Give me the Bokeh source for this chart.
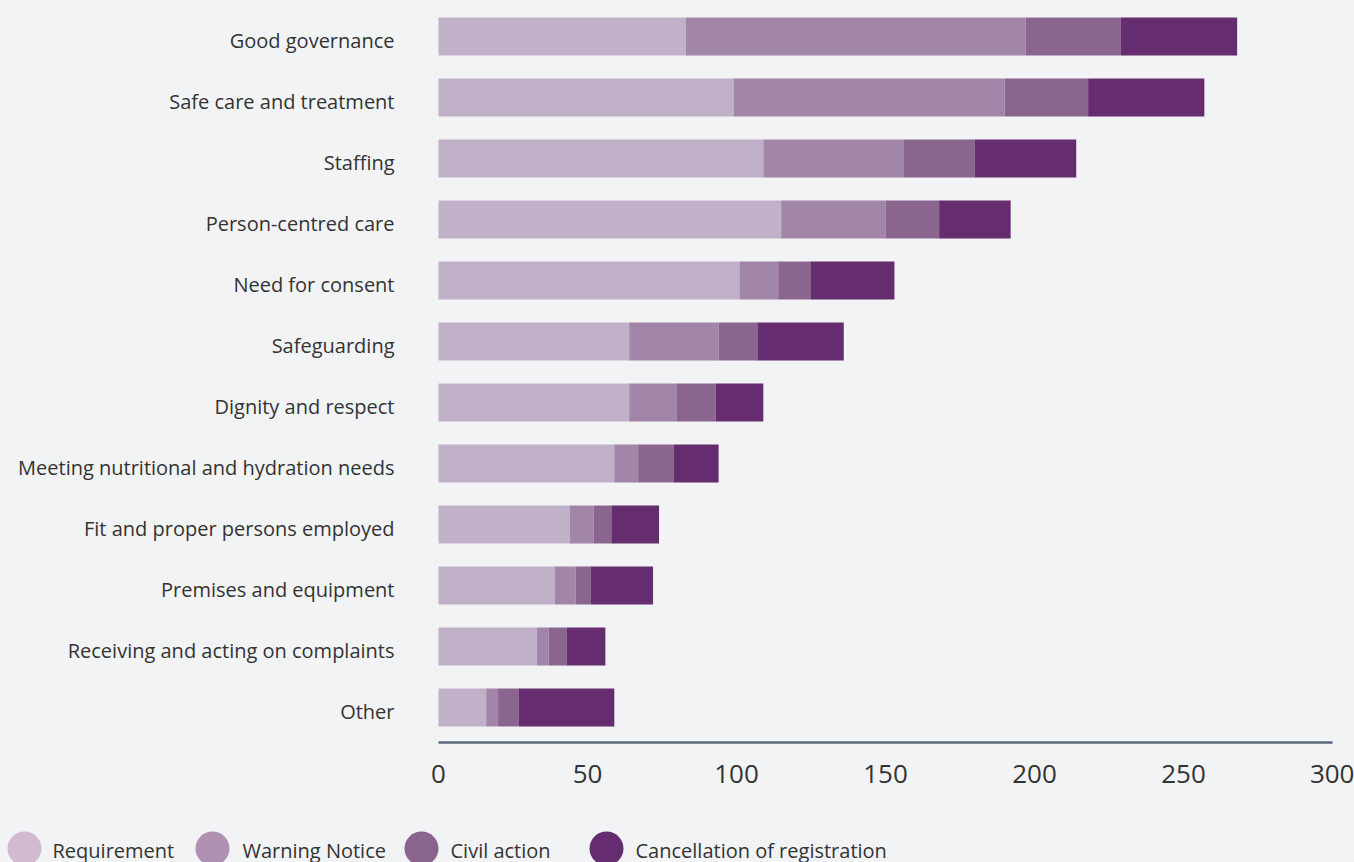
from bokeh.plotting import figure
from bokeh.models import ColumnDataSource, Range1d, FixedTicker, LinearAxis, GlobalInlineStyleSheet
from bokeh.core.properties import value
from bokeh.embed import file_html
from bokeh.resources import INLINE

categories = ["Good governance", "Safe care and treatment", "Staffing", "Person-centred care",
              "Need for consent", "Safeguarding", "Dignity and respect",
              "Meeting nutritional and hydration needs", "Fit and proper persons employed",
              "Premises and equipment", "Receiving and acting on complaints", "Other"]
requirement = [83, 99, 109, 115, 101, 64, 64, 59, 44, 39, 33, 16]
warning_notice = [114, 91, 47, 35, 13, 30, 16, 8, 8, 7, 4, 4]
civil_action = [32, 28, 24, 18, 11, 13, 13, 12, 6, 5, 6, 7]
cancellation = [39, 39, 34, 24, 28, 29, 16, 15, 16, 21, 13, 32]
series_names = ["Requirement", "Warning Notice", "Civil action", "Cancellation of registration"]
x_ticks = [0, 50, 100, 150, 200, 250, 300]

bar_colors = ["#c1b1c8", "#a186aa", "#8a658d", "#652c6f"]
legend_colors = ["#d3bad3", "#b091b2", "#89658d", "#652d6f"]
BG = "#f2f3f5"
FONT = "Open Sans"
TEXT = "#333333"

W, H = 1354, 862
# layout: pixel geometry of the drawing
X0_PX, X300_PX = 438, 1332          # where 0 and 300 fall
ROW0_PX, ROW_STEP = 36, 61           # centre of first row, row spacing
AXIS_PX = 742                        # y of the value axis line
k = (X300_PX - X0_PX) / 300.0


def px_x(px):
    return (px - X0_PX) / k


def px_y(py):
    return (py - ROW0_PX) / ROW_STEP


keys = ["req", "warn", "civil", "cancel"]
source = ColumnDataSource(dict(
    y=list(range(len(categories))), cat=categories,
    req=requirement, warn=warning_notice, civil=civil_action, cancel=cancellation,
))

css = GlobalInlineStyleSheet(
    css="html, body { margin: 0; padding: 0; background: %s; overflow: hidden; }" % BG)

p = figure(width=W, height=H, output_backend="svg", toolbar_location=None,
           x_range=Range1d(px_x(0), px_x(W)), y_range=Range1d(px_y(H), px_y(0)),
           x_axis_location=None, y_axis_location=None, min_border=0,
           background_fill_color=BG, border_fill_color=BG, outline_line_color=None,
           stylesheets=[css])
p.grid.visible = False

p.hbar_stack(keys, y="y", height=38 / ROW_STEP, source=source,
             fill_color=bar_colors, line_color=None)

# category labels
p.text(x=px_x(394), y="y", text="cat", source=source, text_font=value(FONT),
       text_font_size="20px", text_color=TEXT, text_align="right",
       text_baseline="alphabetic", y_offset=4)

# value axis
xaxis = LinearAxis(ticker=FixedTicker(ticks=x_ticks), fixed_location=px_y(AXIS_PX),
                   bounds=(0, 300))
xaxis.axis_line_color = "#586a7b"
xaxis.axis_line_width = 2.5
xaxis.major_tick_line_color = None
xaxis.minor_tick_line_color = None
xaxis.major_tick_out = 0
xaxis.major_tick_in = 0
xaxis.major_label_standoff = 22
xaxis.major_label_text_font = FONT
xaxis.major_label_text_font_size = "26px"
xaxis.major_label_text_color = TEXT
p.add_layout(xaxis, "below")

# legend
circle_px = [24, 212, 421, 606]
label_px = [52, 242, 450, 635]
p.scatter(x=[px_x(v) for v in circle_px], y=[px_y(848)] * 4, size=34,
          fill_color=legend_colors, line_color=None)
p.text(x=[px_x(v) for v in label_px], y=[px_y(850)] * 4, text=series_names,
       text_font=value(FONT), text_font_size="20px", text_color=TEXT,
       text_baseline="alphabetic", text_align="left")

open("out.html", "w").write(file_html(p, INLINE))
